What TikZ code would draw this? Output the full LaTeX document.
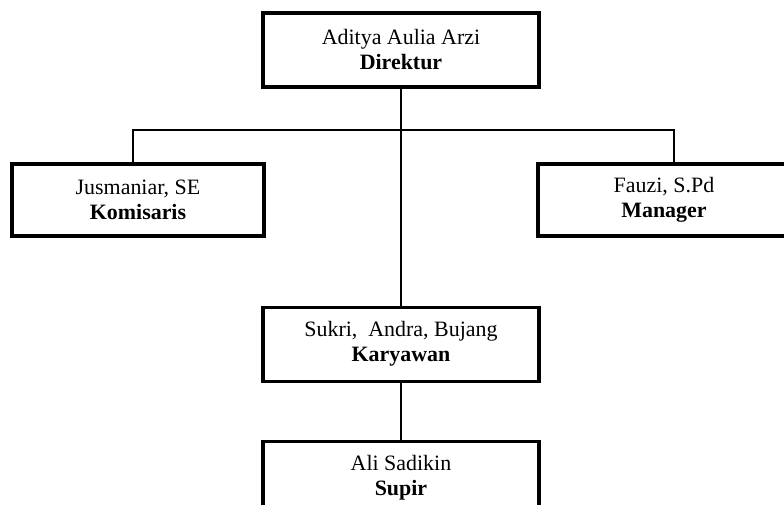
\documentclass[tikz,border=0pt]{standalone}
\usepackage{fontspec}
\setmainfont{Liberation Serif}
\usetikzlibrary{positioning}
\tikzset{
  orgbox/.style={rectangle,draw=black,line width=2.2pt,fill=white,align=center,minimum width=6.9cm,minimum height=1.85cm,font=\fontsize{15.6}{17.8}\selectfont},
  sidebox/.style={orgbox,minimum width=6.3cm,minimum height=1.8cm},
  link/.style={draw=black,line width=0.9pt}
}
\begin{document}
\begin{tikzpicture}
  \useasboundingbox (-10.025,1.25) rectangle (9.575,-11.375);
  \clip (-10.025,1.25) rectangle (9.575,-11.375);

  \node[orgbox] (dir) at (0,0) {Aditya Aulia Arzi\\\textbf{Direktur}};
  \node[sidebox] (kom) at (-6.575,-3.75) {Jusmaniar, SE\\\textbf{Komisaris}};
  \node[sidebox] (man) at (6.575,-3.75) {Fauzi, S.Pd\\\textbf{Manager}};
  \node[orgbox,below=5.425cm of dir] (kar) {Sukri,~ Andra, Bujang\\\textbf{Karyawan}};
  \node[orgbox,below=1.425cm of kar] (sup) {Ali Sadikin\\\textbf{Supir}};

  \coordinate (bar) at (0,-2.0);
  \draw[link] (dir.south) -- (kar.north);
  \draw[link] ([xshift=-0.125cm]kom.north) |- (bar) -| ([xshift=0.25cm]man.north);
  \draw[link] (kar.south) -- (sup.north);
\end{tikzpicture}
\end{document}
